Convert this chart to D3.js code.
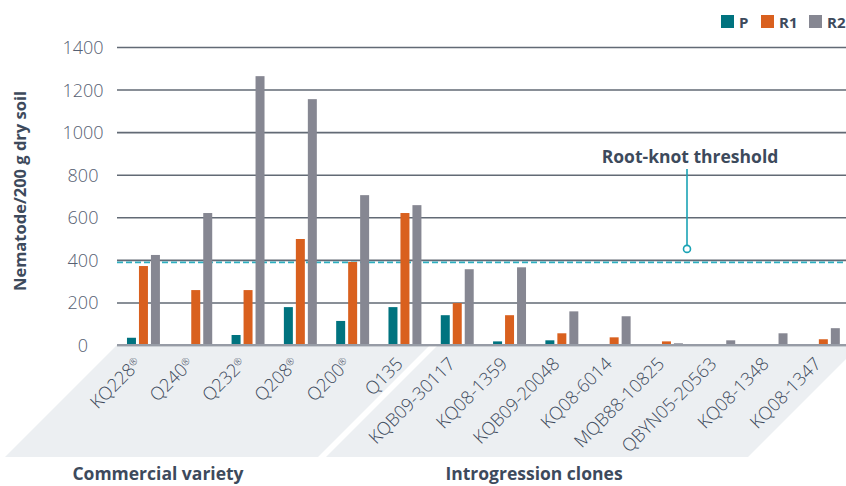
<!DOCTYPE html>
<html>
<head>
<meta charset="utf-8">
<script src="https://cdn.jsdelivr.net/npm/d3@7"></script>
<style>
  html, body { margin: 0; padding: 0; background: #fff; }
  svg { display: block; }
  text { font-family: "Open Sans", "Noto Sans", sans-serif; }
</style>
</head>
<body>
<svg id="chart" width="846" height="486"></svg>
<script>
// ---- data ----
const categories = ["KQ228", "Q240", "Q232", "Q208", "Q200", "Q135",
  "KQB09-30117", "KQ08-1359", "KQB09-20048", "KQ08-6014", "MQB88-10825",
  "QBYN05-20563", "KQ08-1348", "KQ08-1347"];
const registered = [true, true, true, true, true, false, false, false, false, false, false, false, false, false];
const seriesNames = ["P", "R1", "R2"];
const valuesP  = [34, 0, 47, 178, 113, 178, 140, 17, 22, 0, 0, 0, 0, 0];
const valuesR1 = [371, 258, 258, 498, 390, 620, 197, 140, 55, 36, 17, 0, 0, 27];
const valuesR2 = [423, 620, 1263, 1155, 704, 657, 356, 365, 158, 135, 8, 22, 55, 79];
const yTicks = [0, 200, 400, 600, 800, 1000, 1200, 1400];
const threshold = 388;
const groupLabels = ["Commercial variety", "Introgression clones"];
const yTitle = "Nematode/200 g dry soil";
const thresholdLabel = "Root-knot threshold";

const colors = { P: "#00737f", R1: "#d9601e", R2: "#868792" };
const textDark = "#3d4a5c";

// ---- layout ----
const svg = d3.select("#chart");
const plotLeft = 117, plotRight = 846, baseY = 345, topY = 47;

const x0 = d3.scaleBand().domain(categories).range([117.3, 849.5])
  .paddingInner(0.37).paddingOuter(0.185);
const x1 = d3.scaleBand().domain(seriesNames).range([0, x0.bandwidth()])
  .paddingInner(0.25).paddingOuter(0);
const y = d3.scaleLinear().domain([0, 1400]).range([baseY, topY]);

// background parallelograms for label area
const bgTop = baseY, bgBot = 457;
const h = bgBot - bgTop;
svg.append("polygon")
  .attr("points", [[117, bgTop], [430, bgTop], [430 - h, bgBot], [117 - h, bgBot]].map(p => p.join(",")).join(" "))
  .attr("fill", "#eceff2");
svg.append("polygon")
  .attr("points", [[438, bgTop], [860, bgTop], [860 - h, bgBot], [438 - h, bgBot]].map(p => p.join(",")).join(" "))
  .attr("fill", "#eceff2");

// gridlines + y tick labels
const yAxis = d3.axisLeft(y).tickValues(yTicks).tickFormat(d3.format("d"))
  .tickSize(-(plotRight - plotLeft)).tickPadding(0);
const gy = svg.append("g").attr("transform", `translate(${plotLeft},0)`).call(yAxis);
gy.select(".domain").remove();
gy.selectAll(".tick line").attr("stroke", "#626a75").attr("stroke-width", 1.6);
gy.selectAll(".tick text")
  .attr("x", -34).attr("dy", "0.36em")
  .attr("text-anchor", "middle")
  .attr("fill", "#566072")
  .style("font-size", "18px").style("font-weight", 300);

// threshold dashed line
svg.append("line")
  .attr("x1", plotLeft).attr("x2", plotRight)
  .attr("y1", y(threshold)).attr("y2", y(threshold))
  .attr("stroke", "#2eaebf").attr("stroke-width", 1.6)
  .attr("stroke-dasharray", "6,3");

// bars
const series = [valuesP, valuesR1, valuesR2];
const rows = categories.map((c, i) => ({ cat: c, vals: seriesNames.map((s, j) => ({ key: s, value: series[j][i] })) }));
const groups = svg.append("g").selectAll("g").data(rows).join("g")
  .attr("transform", d => `translate(${x0(d.cat)},0)`);
groups.selectAll("rect").data(d => d.vals.filter(v => v.value > 0)).join("rect")
  .attr("x", d => x1(d.key))
  .attr("width", x1.bandwidth())
  .attr("y", d => y(d.value))
  .attr("height", d => baseY - y(d.value))
  .attr("fill", d => colors[d.key]);

// baseline
svg.append("line")
  .attr("x1", plotLeft).attr("x2", plotRight)
  .attr("y1", baseY).attr("y2", baseY)
  .attr("stroke", "#979ca6").attr("stroke-width", 2);

// x axis labels
const xAxis = d3.axisBottom(x0).tickSize(0).tickPadding(0);
const gx = svg.append("g").attr("transform", `translate(0,${baseY})`).call(xAxis);
gx.select(".domain").remove();
gx.selectAll(".tick text")
  .attr("x", 0).attr("y", 0).attr("dy", 0)
  .attr("transform", "translate(-1,20) rotate(-45)")
  .attr("text-anchor", "end")
  .attr("fill", textDark)
  .style("font-size", "18px").style("font-weight", 300)
  .each(function (d, i) {
    if (registered[i]) {
      d3.select(this).append("tspan")
        .attr("dy", "-0.55em").style("font-size", "10px").text("\u00AE");
    }
  });

// y axis title
svg.append("text")
  .attr("transform", `translate(26,191) rotate(-90)`)
  .attr("text-anchor", "middle")
  .attr("fill", textDark)
  .style("font-size", "16.5px").style("font-weight", 700)
  .text(yTitle);

// threshold annotation
const annX = 687;
svg.append("line")
  .attr("x1", annX).attr("x2", annX)
  .attr("y1", 169).attr("y2", y(threshold) - 17)
  .attr("stroke", "#1aa3b5").attr("stroke-width", 1.6);
svg.append("circle")
  .attr("cx", annX).attr("cy", y(threshold) - 13.5).attr("r", 3.5)
  .attr("fill", "#fff").attr("stroke", "#1aa3b5").attr("stroke-width", 1.6);
svg.append("text")
  .attr("x", 690).attr("y", 163)
  .attr("text-anchor", "middle")
  .attr("fill", textDark)
  .style("font-size", "17.5px").style("font-weight", 700)
  .text(thresholdLabel);

// legend
const legendX = [721, 761, 809];
const lg = svg.append("g").selectAll("g").data(seriesNames).join("g")
  .attr("transform", (d, i) => `translate(${legendX[i]},15)`);
lg.append("rect").attr("width", 13).attr("height", 13).attr("fill", d => colors[d]);
lg.append("text").attr("x", 18).attr("y", 12.5)
  .attr("fill", textDark)
  .style("font-size", "15px").style("font-weight", 700)
  .text(d => d);

// group labels
const groupLabelX = [158, 534];
svg.append("g").selectAll("text").data(groupLabels).join("text")
  .attr("x", (d, i) => groupLabelX[i]).attr("y", 480)
  .attr("text-anchor", "middle")
  .attr("fill", textDark)
  .style("font-size", "17.5px").style("font-weight", 700)
  .text(d => d);
</script>
</body>
</html>
